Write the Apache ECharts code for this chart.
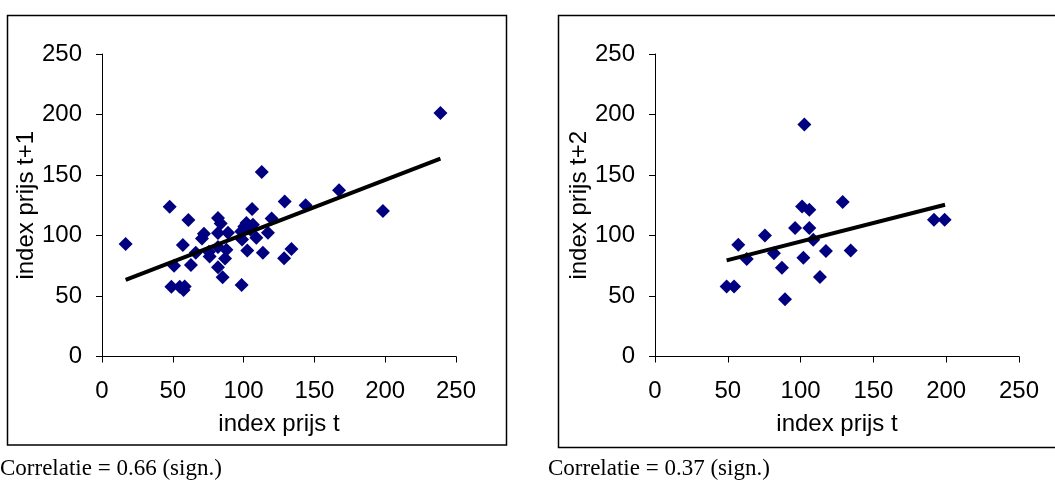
<!DOCTYPE html>
<html><head><meta charset="utf-8">
<script src="https://cdn.jsdelivr.net/npm/echarts@6/dist/echarts.min.js"></script>
<style>html,body{margin:0;padding:0;background:#fff}#c{width:1055px;height:483px}</style>
</head><body><div id="c"></div>
<script>
// Left panel: index prijs t vs index prijs t+1
const leftPoints = [
  [16.7, 92.9], [47.8, 123.8], [61, 112.9], [112.8, 152.4], [239, 201.2], [198.4, 120.2],
  [167.4, 137.3], [143.8, 124.9], [129, 128.2], [106, 121.9], [119.8, 114], [117.2, 102.3],
  [109, 98.1], [102, 110.3], [105, 104.8], [98.4, 103.4], [98.9, 96.7], [102.6, 87.7],
  [113.6, 85.7], [128.6, 81.3], [133.8, 88.8], [98.6, 59], [81.9, 114.4], [83.8, 110],
  [72, 101.5], [70.6, 97.5], [81.9, 102], [89, 102.3], [87.9, 88.3], [86.9, 80.9],
  [81.9, 73.7], [85.2, 65.4], [76, 82.7], [75.5, 86.5], [81.9, 90.5], [66.2, 85.8],
  [57.1, 92.2], [62.8, 75.6], [50.9, 75], [49, 57.6], [54.9, 57.6], [57.6, 54.9],
  [58.4, 57.9], [100.5, 107.5], [106.6, 108.9]
];
const leftTrend = [[16.7, 63.4], [239, 163.5]];
// Right panel: index prijs t vs index prijs t+2
const rightPoints = [
  [102.6, 191.8], [128.9, 127.6], [101, 124], [106, 121.3], [96.2, 106.1], [106, 106.1],
  [108.7, 96.5], [75.5, 100], [57.2, 92.3], [63, 80.5], [81.7, 85.4], [87.2, 73.3],
  [101.9, 81.6], [117.4, 87.1], [134.4, 87.7], [113.3, 65.6], [89.3, 47.4], [49.2, 57.9],
  [54.3, 57.9], [191.6, 113], [198.9, 113]
];
const rightTrend = [[49.2, 79.4], [199.2, 125.4]];
const axisTicks = [0, 50, 100, 150, 200, 250];
const xName = 'index prijs t';
const yNames = ['index prijs t+1', 'index prijs t+2'];
const notes = ['Correlatie = 0.66 (sign.)', 'Correlatie = 0.37 (sign.)'];

const FONT = '"Liberation Sans", Arial, sans-serif';
function xAxis(gi) {
  return {
    gridIndex: gi, type: 'value', min: axisTicks[0], max: axisTicks[axisTicks.length - 1],
    interval: axisTicks[1] - axisTicks[0],
    name: xName, nameLocation: 'middle', nameGap: 56,
    nameTextStyle: {fontSize: 24, color: '#000', fontFamily: FONT},
    axisLine: {show: true, lineStyle: {color: '#000', width: 1}},
    axisTick: {show: true, length: 6, lineStyle: {color: '#000'}},
    axisLabel: {fontSize: 24, color: '#000', fontFamily: FONT, margin: 23},
    splitLine: {show: false}
  };
}
function yAxis(gi, name) {
  return {
    gridIndex: gi, type: 'value', min: axisTicks[0], max: axisTicks[axisTicks.length - 1],
    interval: axisTicks[1] - axisTicks[0],
    name: name, nameLocation: 'middle', nameGap: 63,
    nameTextStyle: {fontSize: 24, color: '#000', fontFamily: FONT},
    axisLine: {show: true, lineStyle: {color: '#000', width: 1}},
    axisTick: {show: true, length: 6, lineStyle: {color: '#000'}},
    axisLabel: {fontSize: 24, color: '#000', fontFamily: FONT, margin: 20},
    splitLine: {show: false}
  };
}
const chart = echarts.init(document.getElementById('c'), null, {renderer: 'canvas'});
chart.setOption({
  animation: false,
  backgroundColor: '#fff',
  grid: [
    {left: 102, top: 54, width: 354, height: 302.5},
    {left: 655, top: 54, width: 364, height: 302.5}
  ],
  xAxis: [xAxis(0), xAxis(1)],
  yAxis: [yAxis(0, yNames[0]), yAxis(1, yNames[1])],
  series: [
    {type: 'scatter', xAxisIndex: 0, yAxisIndex: 0, data: leftPoints, symbol: 'diamond', symbolSize: 14,
     itemStyle: {color: '#000080', opacity: 1}, z: 2},
    {type: 'line', xAxisIndex: 0, yAxisIndex: 0, data: leftTrend, showSymbol: false, symbol: 'none',
     lineStyle: {color: '#000', width: 4}, z: 3},
    {type: 'scatter', xAxisIndex: 1, yAxisIndex: 1, data: rightPoints, symbol: 'diamond', symbolSize: 14,
     itemStyle: {color: '#000080', opacity: 1}, z: 2},
    {type: 'line', xAxisIndex: 1, yAxisIndex: 1, data: rightTrend, showSymbol: false, symbol: 'none',
     lineStyle: {color: '#000', width: 4}, z: 3}
  ],
  graphic: [
    {type: 'rect', shape: {x: 7.5, y: 15.5, width: 499, height: 429.5}, style: {fill: 'none', stroke: '#000', lineWidth: 1.5}, z: -1},
    {type: 'rect', shape: {x: 558.5, y: 15.5, width: 520, height: 432}, style: {fill: 'none', stroke: '#000', lineWidth: 1.5}, z: -1},
    {type: 'text', left: 0, top: 457, style: {text: notes[0], font: '23px "Liberation Serif", "Times New Roman", serif', fill: '#000'}},
    {type: 'text', left: 548, top: 457, style: {text: notes[1], font: '23px "Liberation Serif", "Times New Roman", serif', fill: '#000'}}
  ]
});
</script></body></html>
